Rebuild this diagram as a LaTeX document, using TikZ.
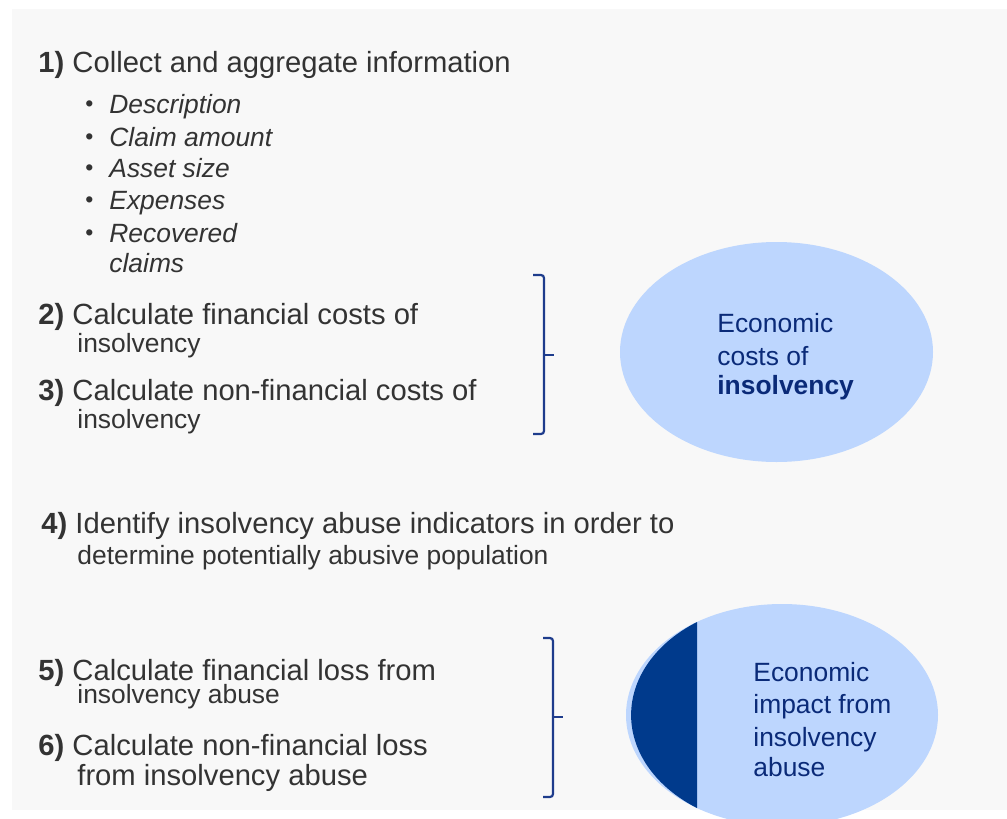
\documentclass[tikz,border=0pt]{standalone}
\usepackage{fontspec}
\setmainfont{Liberation Sans}
\usetikzlibrary{positioning}

\definecolor{bggray}{HTML}{F8F8F8}
\definecolor{txtgray}{HTML}{333333}
\definecolor{lightblue}{HTML}{BDD6FE}
\definecolor{darkblue}{HTML}{003A8C}
\definecolor{inkblue}{HTML}{0A2A78}
\definecolor{bracketblue}{HTML}{1E3C8C}

\begin{document}
\begin{tikzpicture}[x=0.5pt,y=-0.5pt,
	steptext/.style={anchor=base west,inner sep=0pt,text=txtgray,font=\fontsize{14.6}{17}\selectfont},
	subtext/.style={anchor=base west,inner sep=0pt,text=txtgray,font=\fontsize{13.2}{16}\selectfont},
	bullettext/.style={subtext,font=\fontsize{13.2}{16}\selectfont\itshape},
	bulletdot/.style={subtext,font=\fontsize{11.5}{14}\selectfont},
	circtext/.style={anchor=base west,inner sep=0pt,text=inkblue,font=\fontsize{13.2}{16}\selectfont},
	brace/.style={draw=bracketblue,line width=1.1pt,rounded corners=1.5pt}]

	\useasboundingbox (0,0) rectangle (1007,819);
	\clip (0,0) rectangle (1007,819);

	%Background panel
	\fill [bggray] (12,9) rectangle (1007,810);

	%Step 1 with its list
	\node [steptext] (step1) at (38,72) {\textbf{1)} Collect and aggregate information};
	\node [bulletdot] (bul1) at (85,111) {•};
	\node [bullettext] (item1) at (109,113) {Description};
	\node [bulletdot] (bul2) at (85,144) {•};
	\node [bullettext] (item2) at (109,146) {Claim amount};
	\node [bulletdot] (bul3) at (85,175) {•};
	\node [bullettext] (item3) at (109,177) {Asset size};
	\node [bulletdot] (bul4) at (85,207) {•};
	\node [bullettext] (item4) at (109,209) {Expenses};
	\node [bulletdot] (bul5) at (85,240) {•};
	\node [bullettext] (item5) at (109,242) {Recovered};
	\node [bullettext] (item5b) at (109,272) {claims};

	%Steps 2 and 3
	\node [steptext] (step2) at (38,324) {\textbf{2)} Calculate financial costs of};
	\node [subtext] (step2b) at (77,352) {insolvency};
	\node [steptext] (step3) at (38,400) {\textbf{3)} Calculate non-financial costs of};
	\node [subtext] (step3b) at (77,428) {insolvency};

	%Bracket for steps 2 and 3
	\draw [brace] (533,275) -- (544,275) -- (544,434) -- (533,434);
	\draw [brace] (544,355) -- (554,355);

	%Ellipse at the top
	\fill [lightblue] (776.5,352) ellipse [x radius=156.5, y radius=110];
	\node [circtext] (cost1) at (717,332) {Economic};
	\node [circtext] (cost2) at (717,365) {costs of};
	\node [circtext] (cost3) at (717,394) {\textbf{insolvency}};

	%Step 4
	\node [steptext] (step4) at (41,533) {\textbf{4)} Identify insolvency abuse indicators in order to};
	\node [subtext] (step4b) at (77,564) {determine potentially abusive population};

	%Steps 5 and 6
	\node [steptext] (step5) at (38,680) {\textbf{5)} Calculate financial loss from};
	\node [subtext] (step5b) at (77,703) {insolvency abuse};
	\node [steptext] (step6) at (38,755) {\textbf{6)} Calculate non-financial loss};
	\node [steptext] (step6b) at (77,785) {from insolvency abuse};

	%Bracket for steps 5 and 6
	\draw [brace] (543,638) -- (553,638) -- (553,797) -- (543,797);
	\draw [brace] (553,717) -- (563,717);

	%Ellipse at the bottom
	\fill [lightblue] (782,715) ellipse [x radius=156, y radius=111];
	\fill [darkblue] (697,622) arc [start angle=235.7, end angle=124.3, x radius=151, y radius=112.6] -- cycle;
	\node [circtext] (abuse1) at (753,681) {Economic};
	\node [circtext] (abuse2) at (753,713) {impact from};
	\node [circtext] (abuse3) at (753,746) {insolvency};
	\node [circtext] (abuse4) at (753,776) {abuse};
\end{tikzpicture}
\end{document}
